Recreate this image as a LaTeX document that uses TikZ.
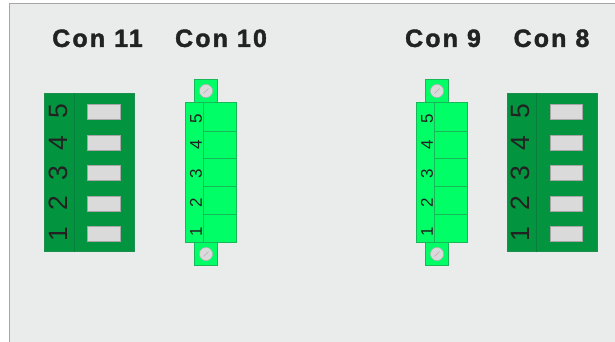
\documentclass[tikz,border=0pt]{standalone}
\usepackage{fontspec}
\setmainfont{Liberation Sans}
\newfontfamily\titlefont[FakeBold=1.6,LetterSpace=8.5]{Liberation Sans Bold}
\definecolor{bgc}{HTML}{EAECEC}
\definecolor{dkg}{HTML}{03943F}
\definecolor{dkl}{HTML}{06803A}
\definecolor{brg}{HTML}{00FF66}
\definecolor{brl}{HTML}{18B858}
\definecolor{slotc}{HTML}{D9DAD9}
\definecolor{txtc}{HTML}{222222}
\tikzset{
  x=1pt,y=-1pt,
  title/.style={font=\titlefont\fontsize{25}{25}\selectfont,text=txtc,inner sep=0pt,anchor=center},
  bigbody/.style={fill=dkg,draw=dkg!80!gray,line width=0.6pt},
  bigline/.style={draw=dkl,line width=0.8pt},
  slot/.style={fill=slotc,draw=gray!70,line width=0.5pt},
  bignum/.style={font=\fontsize{26.5}{26.5}\selectfont,text=txtc,rotate=90,inner sep=0pt},
  smallbody/.style={fill=brg,draw=brl,line width=0.7pt},
  smallnum/.style={font=\fontsize{17}{17}\selectfont,text=txtc,rotate=90,inner sep=0pt},
  screw/.style={fill=slotc,draw=gray!60,line width=0.5pt},
}
\newcommand{\bigcon}[1]{%
  \begin{scope}[shift={(#1,0)}]
    \draw[bigbody] (0,93.3) rectangle (90,251.7);
    \draw[bigline] (29.5,93.3) -- (29.5,251.7);
    \foreach \n/\y in {5/111.3,4/142.3,3/172.7,2/203.5,1/234.2}{
      \draw[slot] (42.8,\y-7.5) rectangle (75.7,\y+7.5);
    }
    \foreach \n/\y in {5/111.6,4/142.7,3/172.7,2/203,1/234}{
      \node[bignum] at (13.7,\y) {\n};
    }
  \end{scope}}
\newcommand{\smallcon}[1]{%
  \begin{scope}[shift={(#1,0)}]
    \draw[smallbody] (9.3,79.3) rectangle (32.7,103);
    \draw[smallbody] (9.3,242.7) rectangle (32.7,265.8);
    \draw[smallbody] (0,102.8) rectangle (51,242.7);
    \draw[brl,line width=0.7pt] (18.7,102.8) -- (18.7,242.7);
    \foreach \y in {131,158.7,186.7,214.7}{\draw[brl,line width=0.7pt] (18.7,\y) -- (51,\y);}
    \foreach \n/\y in {5/119,4/145,3/173.3,2/202.7,1/231.7}{
      \node[smallnum] at (11,\y) {\n};
    }
    \draw[screw] (21,91) circle (6.6);
    \draw[gray!60,line width=0.6pt] (18.5,93.5) -- (23.5,88.5);
    \draw[screw] (21,254) circle (6.6);
    \draw[gray!60,line width=0.6pt] (18.5,256.5) -- (23.5,251.5);
  \end{scope}}
\begin{document}
\begin{tikzpicture}
\useasboundingbox (0,0) rectangle (615,342);
\fill[white] (0,0) rectangle (615,342);
\fill[bgc] (9.5,3.5) rectangle (615,342);
\draw[gray!70,line width=0.8pt] (9.5,342) -- (9.5,3.5) -- (615,3.5);
\node[title] (c11) at (97.5,38.3) {Con 11};
\node[title] (c10) at (221,38.3) {Con 10};
\node[title] (c9) at (443,38.3) {Con 9};
\node[title] (c8) at (551.5,38.3) {Con 8};
\bigcon{44.7}
\bigcon{507}
\smallcon{185}
\smallcon{416}
\end{tikzpicture}
\end{document}
